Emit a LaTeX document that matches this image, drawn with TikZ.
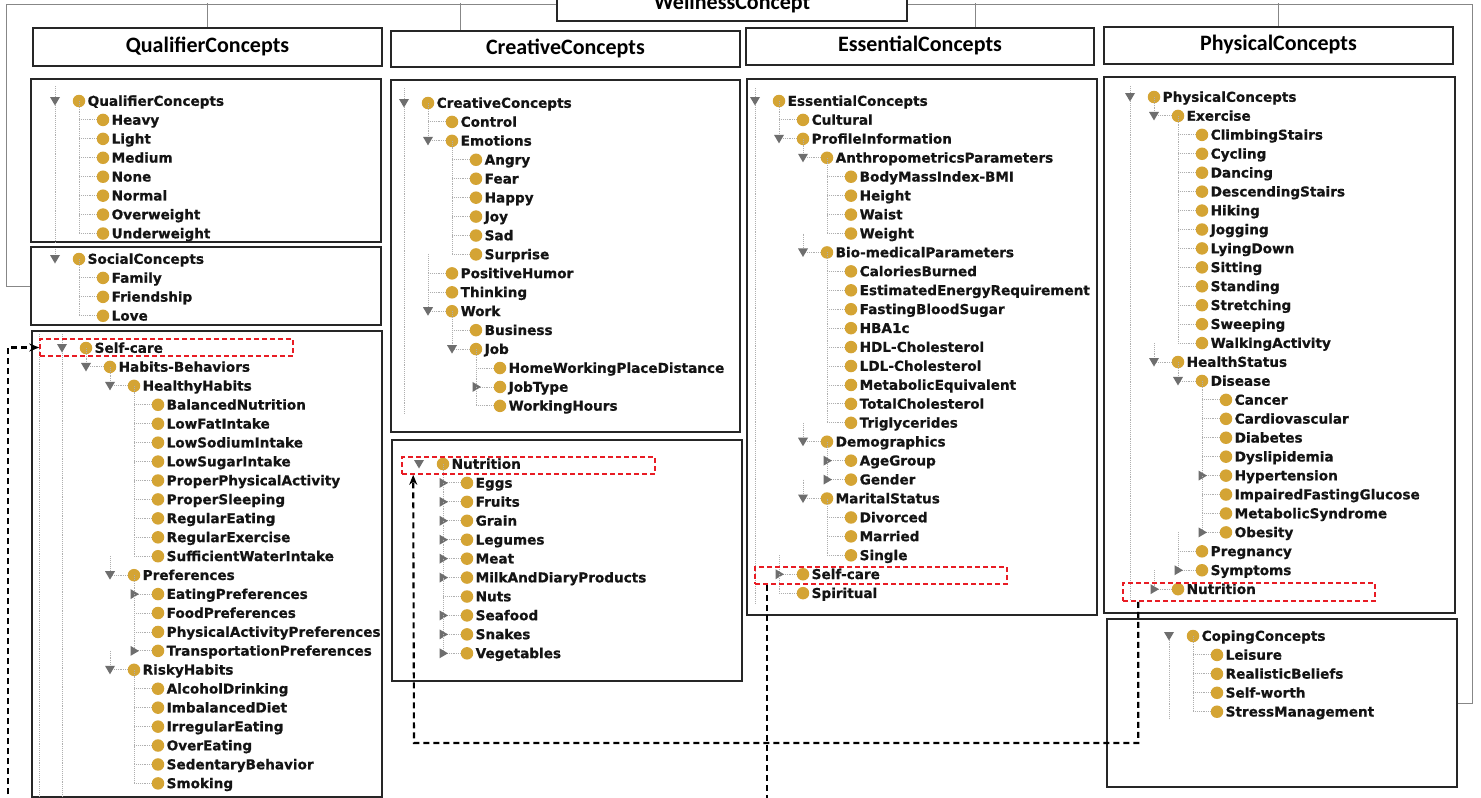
\documentclass[tikz,border=0pt]{standalone}
\usepackage{fontspec}
\usepackage{tikz}
\usetikzlibrary{arrows.meta, positioning}
\newfontfamily\treefont{DejaVu Sans}[BoldFeatures={FakeBold=0.7}]
\newfontfamily\headfont{Carlito}

\definecolor{dotc}{RGB}{212,164,52}
\definecolor{handlec}{RGB}{110,110,110}
\definecolor{guidec}{RGB}{175,175,175}
\definecolor{hlred}{RGB}{232,28,36}
\definecolor{feedc}{RGB}{135,135,135}
\definecolor{framec}{RGB}{38,38,38}

\tikzset{
  classdot/.style={circle, fill=dotc, inner sep=0pt, minimum size=12.5pt},
  classname/.style={anchor=base west, inner sep=0pt, text=black!92,
    font=\treefont\bfseries\fontsize{13.6}{16}\selectfont},
  guide/.style={guidec, densely dotted, line width=0.9pt},
  handle/.style={fill=handlec},
  headbox/.style={draw=framec, line width=1.6pt, fill=white, text height=15pt, text depth=4.5pt,
    font=\headfont\bfseries\fontsize{22}{26}\selectfont},
  treebox/.style={draw=framec, line width=1.6pt},
  hlbox/.style={draw=hlred, dashed, dash pattern=on 5pt off 3pt, line width=1.6pt},
  link/.style={draw=black, line width=2.1pt, dash pattern=on 6pt off 4pt, -{Stealth[length=10pt,width=8pt]}},
  feed/.style={draw=feedc, line width=1pt}
}

% 树: 前缀, x0, 第一行 y, 列表 (层/图标/名称)
\newcommand{\classtree}[4]{%
  \foreach \lv/\tp/\txt [count=\i from 0] in {#4}{
    \pgfmathsetmacro\yy{#3+18.93*\i}
    \pgfmathsetmacro\yp{\yy-18.93}
    \pgfmathsetmacro\xl{#2+24*\lv}
    \pgfmathsetmacro\xd{\xl+24}
    \ifnum\lv>0
      \draw[guide] (\xl,\yp) -- (\xl,\yy) -- (\xd-6,\yy);
    \fi
    \ifcase\tp\or
      \fill[handle] (\xl-5,\yy-4) -- (\xl+5,\yy-4) -- (\xl,\yy+4.5) -- cycle;
    \or
      \fill[handle] (\xl-3.5,\yy-5) -- (\xl+5,\yy) -- (\xl-3.5,\yy+5) -- cycle;
    \fi
    \node[classdot] (#1-d\i) at (\xd,\yy) {};
    \node[classname] (#1-\i) at (\xd+8.5,\yy+4.8) {\txt};
  }}

\begin{document}
\begin{tikzpicture}[x=1pt, y=-1pt]
  \fill[white] (0,0) rectangle (1481,798);
  \useasboundingbox (0,0) rectangle (1481,798);

  % 框
  \node[treebox, minimum width=350pt, minimum height=163pt] (qbox)   at (206,160.5) {};
  \node[treebox, minimum width=350pt, minimum height=78pt]  (socbox) at (206,286) {};
  \node[treebox, minimum width=350pt, minimum height=466pt] (selfbox) at (207,564) {};
  \node[treebox, minimum width=349pt, minimum height=352pt] (crbox)  at (565.5,256) {};
  \node[treebox, minimum width=350pt, minimum height=241pt] (nutbox) at (567,560.5) {};
  \node[treebox, minimum width=350pt, minimum height=536pt] (esbox)  at (922,347) {};
  \node[treebox, minimum width=351pt, minimum height=536pt] (phbox)  at (1279.5,345) {};
  \node[treebox, minimum width=350pt, minimum height=168pt] (copbox) at (1282,703) {};

  % 标题
  \node[headbox, minimum width=350pt, minimum height=34.5pt] (wc) at (732,3.75) {WellnessConcept};
  \node[headbox, minimum width=349pt, minimum height=38pt] (qhead) at (207.5,47) {QualifierConcepts};
  \node[headbox, minimum width=349pt, minimum height=36pt] (chead) at (565.5,49) {CreativeConcepts};
  \node[headbox, minimum width=348pt, minimum height=37pt] (ehead) at (920,46.5) {EssentialConcepts};
  \node[headbox, minimum width=349pt, minimum height=37pt] (phead) at (1278.5,45.5) {PhysicalConcepts};

  \draw[feed] ([yshift=-0.75pt]wc.west) -| ([xshift=-24pt]socbox.west) -- (socbox.west);
  \draw[feed] ([yshift=-0.75pt]wc.east) -| ([xshift=15pt]copbox.east) -- (copbox.east);
  \draw[feed] (qhead.north) -- (qhead.north |- 0,3);
  \draw[feed] ([xshift=-105pt]chead.north) -- ([xshift=-105pt]chead.north |- 0,3);
  \draw[feed] ([xshift=55pt]ehead.north) -- ([xshift=55pt]ehead.north |- 0,3);
  \draw[feed] (phead.north) -- (phead.north |- 0,3);

  % 树
  \draw[guide] (55,86) -- (55,242) (55,249) -- (55,259);
  \draw[guide] (39,334) -- (39,800) (62,334) -- (62,800);
  \draw[guide] (404,88) -- (404,413);
  \draw[guide] (755,88) -- (755,603);
  \draw[guide] (1130,86) -- (1130,600);
  \draw[guide] (1169,636) -- (1169,718);

  \classtree{q}{55}{101}{0/1/QualifierConcepts, 1/0/Heavy, 1/0/Light, 1/0/Medium, 1/0/None,
    1/0/Normal, 1/0/Overweight, 1/0/Underweight}
  \classtree{s}{55}{259}{0/1/SocialConcepts, 1/0/Family, 1/0/Friendship, 1/0/Love}
  \begin{scope}
    \clip ([xshift=1pt]selfbox.south west) rectangle ([xshift=-3pt]selfbox.north east);
    \classtree{h}{62}{348}{0/1/Self-care, 1/1/Habits-Behaviors, 2/1/HealthyHabits,
      3/0/BalancedNutrition, 3/0/LowFatIntake, 3/0/LowSodiumIntake, 3/0/LowSugarIntake,
      3/0/ProperPhysicalActivity, 3/0/ProperSleeping, 3/0/RegularEating, 3/0/RegularExercise,
      3/0/SufficientWaterIntake, 2/1/Preferences, 3/2/EatingPreferences, 3/0/FoodPreferences,
      3/0/PhysicalActivityPreferences, 3/2/TransportationPreferences, 2/1/RiskyHabits,
      3/0/AlcoholDrinking, 3/0/ImbalancedDiet, 3/0/IrregularEating, 3/0/OverEating,
      3/0/SedentaryBehavior, 3/0/Smoking}
  \end{scope}
  \classtree{c}{404}{103}{0/1/CreativeConcepts, 1/0/Control, 1/1/Emotions, 2/0/Angry, 2/0/Fear,
    2/0/Happy, 2/0/Joy, 2/0/Sad, 2/0/Surprise, 1/0/PositiveHumor, 1/0/Thinking, 1/1/Work,
    2/0/Business, 2/1/Job, 3/0/HomeWorkingPlaceDistance, 3/2/JobType, 3/0/WorkingHours}
  \classtree{n}{419}{464}{0/1/Nutrition, 1/2/Eggs, 1/2/Fruits, 1/2/Grain, 1/2/Legumes, 1/2/Meat,
    1/2/MilkAndDiaryProducts, 1/0/Nuts, 1/2/Seafood, 1/2/Snakes, 1/2/Vegetables}
  \classtree{e}{755}{101}{0/1/EssentialConcepts, 1/0/Cultural, 1/1/ProfileInformation,
    2/1/AnthropometricsParameters, 3/0/BodyMassIndex-BMI, 3/0/Height, 3/0/Waist, 3/0/Weight,
    2/1/Bio-medicalParameters, 3/0/CaloriesBurned, 3/0/EstimatedEnergyRequirement,
    3/0/FastingBloodSugar, 3/0/HBA1c, 3/0/HDL-Cholesterol, 3/0/LDL-Cholesterol,
    3/0/MetabolicEquivalent, 3/0/TotalCholesterol, 3/0/Triglycerides, 2/1/Demographics,
    3/2/AgeGroup, 3/2/Gender, 2/1/MaritalStatus, 3/0/Divorced, 3/0/Married, 3/0/Single,
    1/2/Self-care, 1/0/Spiritual}
  \classtree{p}{1130}{97}{0/1/PhysicalConcepts, 1/1/Exercise, 2/0/ClimbingStairs, 2/0/Cycling,
    2/0/Dancing, 2/0/DescendingStairs, 2/0/Hiking, 2/0/Jogging, 2/0/LyingDown, 2/0/Sitting,
    2/0/Standing, 2/0/Stretching, 2/0/Sweeping, 2/0/WalkingActivity, 1/1/HealthStatus,
    2/1/Disease, 3/0/Cancer, 3/0/Cardiovascular, 3/0/Diabetes, 3/0/Dyslipidemia,
    3/2/Hypertension, 3/0/ImpairedFastingGlucose, 3/0/MetabolicSyndrome, 3/2/Obesity,
    2/0/Pregnancy, 2/2/Symptoms, 1/2/Nutrition}
  \classtree{k}{1169}{636}{0/1/CopingConcepts, 1/0/Leisure, 1/0/RealisticBeliefs, 1/0/Self-worth,
    1/0/StressManagement}

  % 高亮
  \node[hlbox, minimum width=253pt, minimum height=17pt] (selfQ) at (166.5,347.5) {};
  \node[hlbox, minimum width=253pt, minimum height=17pt] (nutC)  at (528.5,465.5) {};
  \node[hlbox, minimum width=252pt, minimum height=17pt] (selfE) at (881,575.5) {};
  \node[hlbox, minimum width=252pt, minimum height=18pt] (nutP)  at (1249,592) {};

  % 箭头
  \draw[link] ([xshift=13pt]selfE.south west) |- (8,830) |- (selfQ.west);
  \draw[link] ([xshift=16pt]nutP.south west) |- (414,743) -- ([xshift=12pt]nutC.south west);
\end{tikzpicture}
\end{document}
